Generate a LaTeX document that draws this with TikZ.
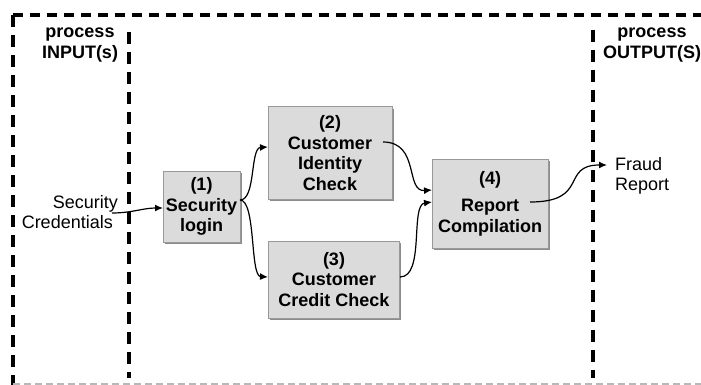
\documentclass[tikz,border=0pt]{standalone}
\usepackage{fontspec}
\setmainfont{Liberation Sans}
\usetikzlibrary{arrows.meta,shadows}
\begin{document}
\begin{tikzpicture}[x=1pt,y=-1pt,
  font=\fontsize{18}{20.5}\selectfont,
  hlane/.style={line width=3.8pt,dash pattern=on 10pt off 7pt},
  vlane/.style={line width=3.4pt,dash pattern=on 12pt off 8pt},
  baseline rule/.style={line width=1.4pt,draw=black!28,dash pattern=on 7pt off 4pt},
  stepbox/.style={draw=black!40,line width=1pt,fill=black!14,inner sep=0pt,
    align=center,font=\fontsize{18}{20.5}\selectfont\bfseries,
    drop shadow={shadow xshift=1.6pt,shadow yshift=-1.6pt,fill=black!45,opacity=1}},
  flow/.style={line width=1.2pt,-{Latex[length=8pt,width=7pt]}},
  lanelabel/.style={align=center,font=\fontsize{18}{20.5}\selectfont\bfseries,inner sep=0pt},
  io/.style={inner sep=0pt}
]
\useasboundingbox (0,0) rectangle (701,385);
\clip (0,0) rectangle (701,385);

% swim-lane borders
\draw[hlane] (13,15) -- (701,15);
\draw[vlane] (13,15) -- (13,385);
\draw[vlane] (129,32) -- (129,378);
\draw[vlane] (593,30) -- (593,378);
\draw[baseline rule] (13,384) -- (701,384);

% lane headings
\node[lanelabel] (inhead) at (80,45) {process\\INPUT(s)};
\node[lanelabel] (outhead) at (652,45) {process\\OUTPUT(S)};

% process steps
\node[stepbox,minimum width=77pt,minimum height=71pt] (b1) at (201.5,206.5) {(1)\\Security\\login};
\node[stepbox,minimum width=124pt,minimum height=92pt] (b2) at (330,153) {(2)\\Customer\\Identity\\Check};
\node[stepbox,minimum width=131pt,minimum height=77pt] (b3) at (334,279.5) {(3)\\Customer\\Credit Check};
\node[stepbox,minimum width=116pt,minimum height=89pt] (b4) at (490,203.5) {(4)\\[7pt]Report\\Compilation};

% inputs and outputs
\node[io,align=right,anchor=east] (cred) at (118,212) {Security\\Credentials\hspace*{5pt}};
\node[io,align=left,anchor=west] (fraud) at (615,176) {Fraud\\Report};

% connector end points
\coordinate (credout) at (112,213);
\coordinate (b1in) at (163,208);
\coordinate (b1out) at (240,200);
\coordinate (b2in) at (268,147);
\coordinate (b3in) at (268,277);
\coordinate (b2out) at (383,142);
\coordinate (b3out) at (400,277);
\coordinate (b4inA) at (432,190);
\coordinate (b4inB) at (432,202);
\coordinate (b4out) at (530,202);
\coordinate (fraudin) at (607,165);

% flows
\draw[flow] (credout) to[out=0,in=180] (b1in);
\draw[flow] (b1out) .. controls (256,200) and (250,148) .. (b2in);
\draw[flow] (b1out) .. controls (256,200) and (250,276) .. (b3in);
\draw[flow] (b2out) .. controls (420,142) and (405,192) .. (b4inA);
\draw[flow] (b3out) .. controls (425,277) and (410,205) .. (b4inB);
\draw[flow] (b4out) .. controls (590,202) and (560,165) .. (fraudin);
\end{tikzpicture}
\end{document}
